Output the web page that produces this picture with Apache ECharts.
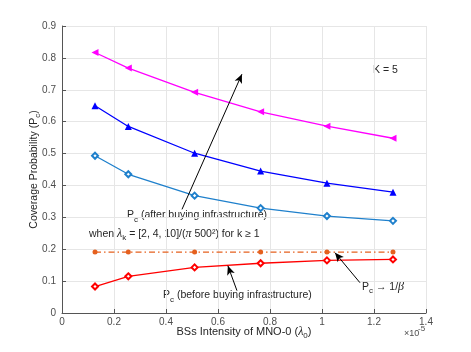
<!DOCTYPE html>
<html>
<head>
<meta charset="utf-8">
<script src="https://cdn.jsdelivr.net/npm/echarts@6/dist/echarts.min.js"></script>
<style>
  html, body { margin: 0; padding: 0; background: #fff; }
  #main { width: 471px; height: 352px; }
</style>
</head>
<body>
<div id="main"></div>
<script>
var dom = document.getElementById("main");
var myChart = echarts.init(dom);

// BS intensity of MNO-0, in units of 1e-5
var lambda0 = [0.127, 0.255, 0.51, 0.764, 1.019, 1.273];

var afterK1 = [0.817, 0.768, 0.692, 0.631, 0.586, 0.548];
var afterK2 = [0.650, 0.585, 0.501, 0.445, 0.407, 0.379];
var afterK3 = [0.493, 0.435, 0.368, 0.329, 0.304, 0.289];
var limit   = [0.191, 0.191, 0.191, 0.191, 0.191, 0.191];
var before  = [0.083, 0.115, 0.143, 0.156, 0.165, 0.168];

var xTicks = [0, 0.2, 0.4, 0.6, 0.8, 1, 1.2, 1.4];
var yTicks = [0, 0.1, 0.2, 0.3, 0.4, 0.5, 0.6, 0.7, 0.8, 0.9];

function pairs(ys) {
    return ys.map(function (y, i) { return [lambda0[i], y]; });
}

var font = 'Liberation Sans';
var richText = {
    sub: { fontFamily: font, fontSize: 8, color: '#262626', padding: [8, 0, 0, 0] },
    g: { fontFamily: 'Liberation Serif', fontStyle: 'italic', fontSize: 12, color: '#262626' },
    gs: { fontFamily: 'Liberation Serif', fontStyle: 'italic', fontSize: 12, color: '#777' }
};

function label(x, y, text) {
    return {
        type: 'text', left: x, top: y,
        style: { text: text, rich: richText, fontFamily: font, fontSize: 10.5, fill: '#262626' }
    };
}

var arrows = [
    [[0.4615, 0.325], [0.692, 0.749]],
    [[0.673, 0.070], [0.638, 0.148]],
    [[1.146, 0.095], [1.05, 0.189]]
];

option = {
    animation: false,
    grid: { left: 62, right: 45, top: 26, bottom: 39 },
    xAxis: {
        type: 'value', min: 0, max: 1.4, interval: 0.2,
        name: 'BSs Intensity of MNO-0 ({g|λ}{sub|0})',
        nameLocation: 'middle', nameGap: 11, nameMoveOverlap: false,
        nameTextStyle: { fontFamily: font, fontSize: 11, color: '#262626', rich: richText },
        axisLine: { lineStyle: { color: '#555', width: 1 } },
        axisTick: { inside: true, length: 4, lineStyle: { color: '#555' } },
        axisLabel: {
            fontFamily: font, fontSize: 10, color: '#4d4d4d', margin: 4,
            formatter: function (v) { var r = +v.toFixed(1); return xTicks.indexOf(r) >= 0 ? String(r) : ''; }
        },
        splitLine: { show: true, lineStyle: { color: '#e6e6e6' } }
    },
    yAxis: {
        type: 'value', min: 0, max: 0.9, interval: 0.1,
        name: 'Coverage Probability (P{sub|c})',
        nameLocation: 'middle', nameGap: 20, nameMoveOverlap: false,
        nameTextStyle: { fontFamily: font, fontSize: 10.5, color: '#262626', rich: richText },
        axisLine: { show: true, lineStyle: { color: '#555', width: 1 } },
        axisTick: { show: true, inside: true, length: 4, lineStyle: { color: '#555' } },
        axisLabel: {
            fontFamily: font, fontSize: 10, color: '#4d4d4d', margin: 6,
            formatter: function (v) { var r = +v.toFixed(1); return yTicks.indexOf(r) >= 0 ? String(r) : ''; }
        },
        splitLine: { show: true, lineStyle: { color: '#e6e6e6' } }
    },
    series: [{
        type: 'line', data: pairs(afterK1),
        symbol: 'triangle', symbolRotate: 90, symbolSize: 7,
        lineStyle: { color: '#ff00ff', width: 1.3 }, itemStyle: { color: '#ff00ff' }
    }, {
        type: 'line', data: pairs(afterK2),
        symbol: 'triangle', symbolSize: 7,
        lineStyle: { color: '#0000ff', width: 1.3 }, itemStyle: { color: '#0000ff' }
    }, {
        type: 'line', data: pairs(afterK3),
        symbol: 'emptyDiamond', symbolSize: 6,
        lineStyle: { color: '#1f80cc', width: 1.3 }, itemStyle: { color: '#1f80cc', borderWidth: 1.3 }
    }, {
        type: 'line', data: pairs(limit),
        symbol: 'circle', symbolSize: 5,
        lineStyle: { color: '#e5601e', width: 1.2, type: [6, 3, 1.5, 3] }, itemStyle: { color: '#e5601e' }
    }, {
        type: 'line', data: pairs(before),
        symbol: 'emptyDiamond', symbolSize: 6,
        lineStyle: { color: '#ff0000', width: 1.3 }, itemStyle: { color: '#ff0000', borderWidth: 1.3 }
    }, {
        type: 'line', data: [], silent: true,
        markLine: {
            silent: true, animation: false,
            symbol: ['none', 'arrow'], symbolSize: [6, 9],
            label: { show: false },
            lineStyle: { color: '#000', width: 1, type: 'solid' },
            data: arrows.map(function (a) { return [{ coord: a[0] }, { coord: a[1] }]; })
        }
    }],
    graphic: [
        label(373, 65, 'K = 5'),
        label(127, 210, 'P{sub|c} (after buying infrastructure)'),
        label(89, 228, 'when {g|λ}{sub|k} = [2, 4, 10]/({g|π} 500²) for k ≥ 1'),
        label(163, 290, 'P{sub|c} (before buying infrastructure)'),
        label(362, 281, 'P{sub|c} → 1/{gs|β}'),
        {
            type: 'text', left: 404, top: 329,
            style: { text: '×10', fontFamily: font, fontSize: 9, fill: '#4d4d4d' }
        },
        {
            type: 'text', left: 418, top: 325,
            style: { text: '-5', fontFamily: font, fontSize: 8, fill: '#4d4d4d' }
        }
    ]
};

if (option && typeof option === "object") {
    myChart.setOption(option, true);
}
</script>
</body>
</html>
